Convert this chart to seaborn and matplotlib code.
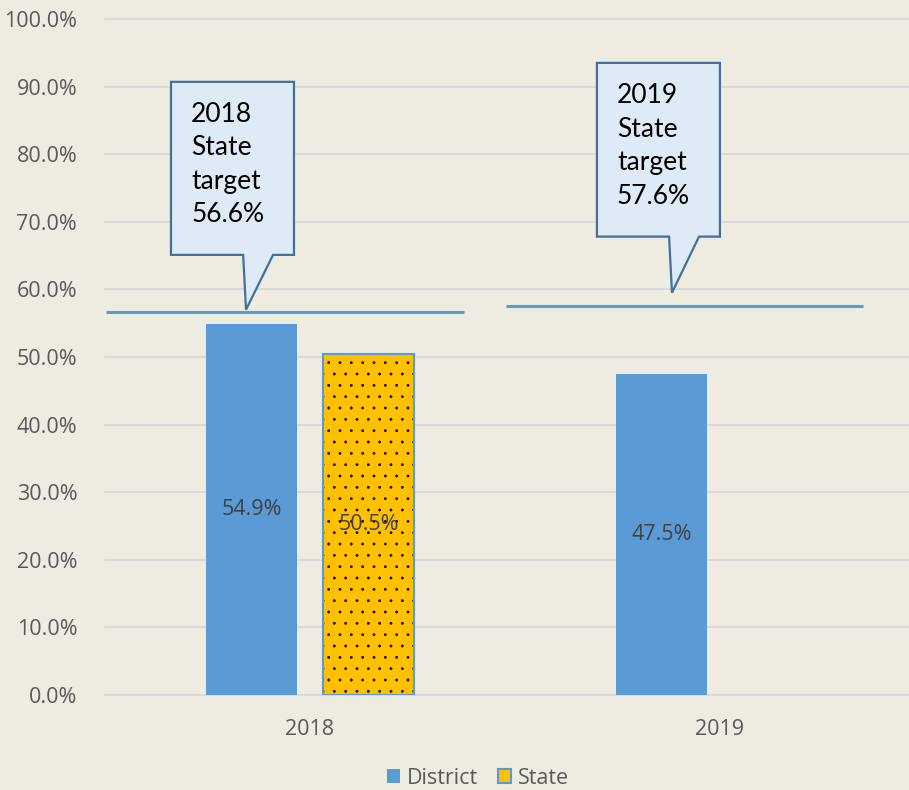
import numpy as np
import pandas as pd
import matplotlib
matplotlib.use("Agg")
import matplotlib.pyplot as plt
import seaborn as sns
from matplotlib.patches import Polygon, Rectangle, Patch
from matplotlib.ticker import FuncFormatter, MultipleLocator

# ---- data -------------------------------------------------------------
years = ["2018", "2019"]
series = ["District", "State"]
district = [54.9, 47.5]
state = [50.5, np.nan]          # no state figure reported for 2019
state_targets = [56.6, 57.6]
target_text = ["2018\nState\ntarget\n56.6%", "2019\nState\ntarget\n57.6%"]

BG = "#EEEBE0"
BLUE = "#5B9BD5"
GOLD = "#FFC000"
GRID = "#D9D9D9"
TXT = "#595959"

# render resolution; sizes below are given for 100 dpi and rescaled
DPI = 136
K = 100 / DPI

df = pd.DataFrame({
    "Year": years * 2,
    "Group": [series[0]] * 2 + [series[1]] * 2,
    "Rate": district + state,
}).dropna()

sns.set_theme(style="whitegrid")
plt.rcParams["font.family"] = ["Open Sans", "DejaVu Sans"]
plt.rcParams["hatch.linewidth"] = 0.3 * K

fig = plt.figure(figsize=(909 / DPI, 790 / DPI), dpi=DPI, facecolor=BG)
ax = fig.add_axes([0.1155, 0.1203, 0.902, 0.8557])
ax.set_facecolor(BG)

sns.barplot(data=df, x="Year", y="Rate", hue="Group", hue_order=series,
            order=years, palette={"District": BLUE, "State": GOLD},
            width=0.57, gap=0.22, saturation=1, errorbar=None,
            linewidth=0, legend=False, ax=ax)

# dotted fill with a blue outline for the State bars
for p in ax.containers[1]:
    p.set_hatch("..")
    p.set_edgecolor("black")
    p.set_linewidth(0)
    ax.add_patch(Rectangle(p.get_xy(), p.get_width(), p.get_height(),
                           fill=False, edgecolor=BLUE, lw=1.5 * K,
                           zorder=p.get_zorder() + 0.1))

# value labels in the middle of each bar
for c in ax.containers:
    ax.bar_label(c, labels=[f"{v:.1f}%" for v in c.datavalues],
                 label_type="center", color="#404040", fontsize=15.5 * K, zorder=5)

# state target lines
line_spans = [(-0.498, 0.376), (0.478, 1.349)]
for (x0, x1), t in zip(line_spans, state_targets):
    ax.plot([x0, x1], [t, t], color=BLUE, lw=2.2 * K, solid_capstyle="butt", zorder=4)

# callout boxes (left, right, bottom, top, pointer base left/right, tip x, tip y)
callouts = [
    dict(l=-0.339, r=-0.039, b=65.1, t=90.7, pl=-0.163, pr=-0.090, tx=-0.156, ty=57.0,
         textx=-0.290, texty=78.5),
    dict(l=0.700, r=1.000, b=67.8, t=93.5, pl=0.876, pr=0.949, tx=0.883, ty=59.5,
         textx=0.749, texty=81.2),
]
for c, txt in zip(callouts, target_text):
    pts = [(c["l"], c["t"]), (c["r"], c["t"]), (c["r"], c["b"]), (c["pr"], c["b"]),
           (c["tx"], c["ty"]), (c["pl"], c["b"]), (c["l"], c["b"])]
    ax.add_patch(Polygon(pts, closed=True, facecolor="#DEEBF7", edgecolor="#41719C",
                         lw=1.6 * K, joinstyle="miter", zorder=6))
    ax.text(c["textx"], c["texty"], txt, ha="left", va="center", fontsize=19 * K,
            family=["Lato", "DejaVu Sans"], color="black", linespacing=1.42, zorder=7)

# axes styling
ax.set_xlim(-0.5, 1.5)
ax.set_ylim(0, 100)
ax.yaxis.set_major_locator(MultipleLocator(10))
ax.yaxis.set_major_formatter(FuncFormatter(lambda v, _: f"{v:.1f}%"))
ax.set_xlabel("")
ax.set_ylabel("")
ax.grid(axis="y", color=GRID, lw=1.3 * K)
ax.grid(axis="x", visible=False)
for gl in ax.get_ygridlines():
    gl.set_clip_on(False)
for s in ax.spines.values():
    s.set_visible(False)
ax.tick_params(axis="y", length=0, pad=20 * K, labelsize=15.5 * K, labelcolor=TXT)
ax.tick_params(axis="x", length=0, pad=17 * K, labelsize=15.5 * K, labelcolor=TXT)

# legend
handles = [Patch(facecolor=BLUE, edgecolor=BLUE, lw=0),
           Patch(facecolor=GOLD, edgecolor=BLUE, lw=1.5 * K)]
fig.legend(handles, series, loc="center", bbox_to_anchor=(0.526, 0.015), ncol=2,
           frameon=False, fontsize=15.5 * K, labelcolor=TXT, handlelength=0.6,
           handleheight=0.6, handletextpad=0.35, columnspacing=0.9)

fig.savefig("out.png", dpi=DPI, facecolor=BG)
